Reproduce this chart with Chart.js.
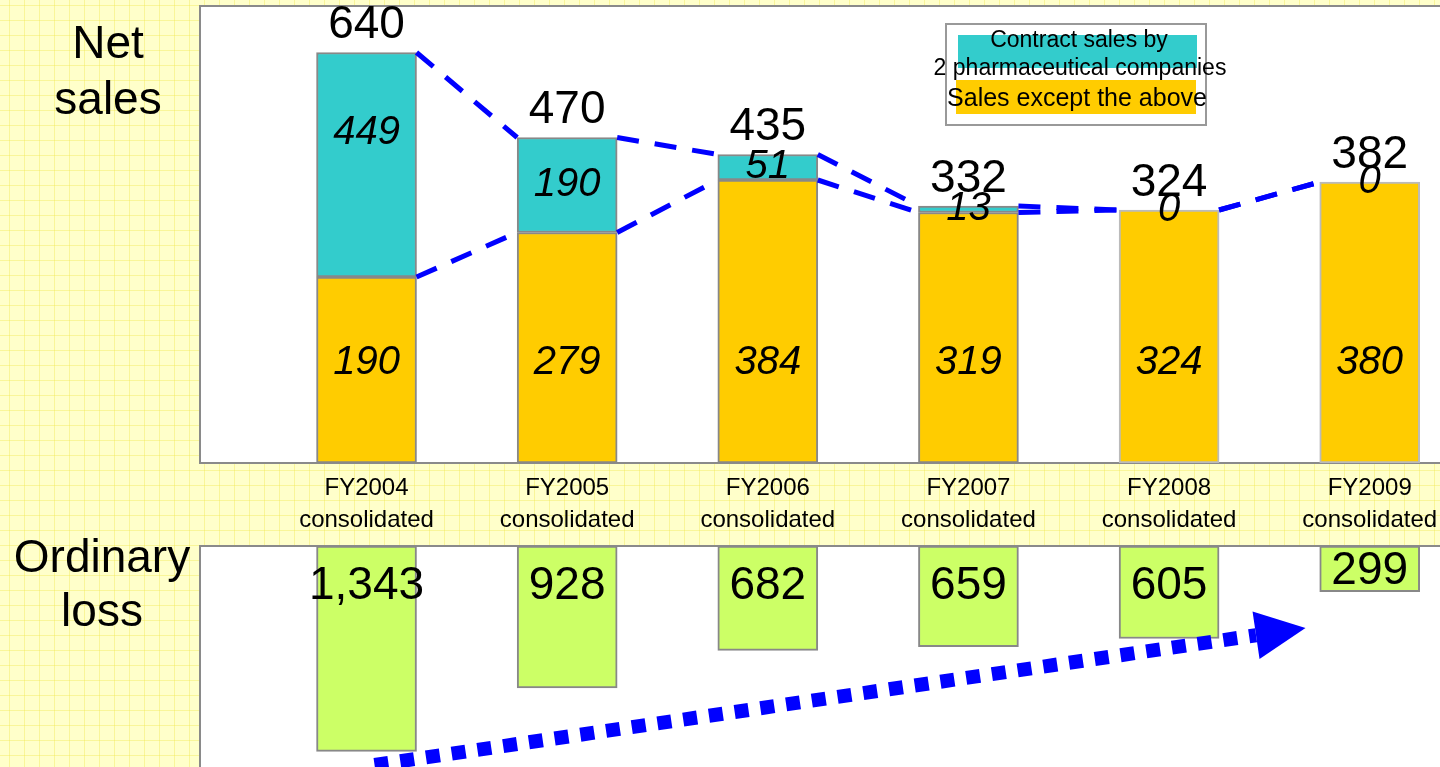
<!DOCTYPE html>
<html><head><meta charset="utf-8">
<script src="https://cdn.jsdelivr.net/npm/chart.js@4/dist/chart.umd.min.js"></script>
<style>
html,body{margin:0;padding:0;width:1440px;height:767px;overflow:hidden;}
body{position:relative;background-color:#FFFFCA;
background-image:linear-gradient(to right, rgba(240,232,80,0.4) 1px, transparent 1px),linear-gradient(to bottom, rgba(240,232,80,0.4) 1px, transparent 1px);
background-size:15px 15px;background-position:9px 5px;font-family:"Liberation Sans",Arial,sans-serif;}
#top{position:absolute;left:0;top:0;width:1460px;height:540px;}
#bot{position:absolute;left:0;top:540px;width:1460px;height:240px;}
.lbl{position:absolute;left:0;text-align:center;font-size:46px;color:#000;}
</style></head>
<body>
<div id="top"><canvas id="c1" width="1460" height="540"></canvas></div>
<div id="bot"><canvas id="c2" width="1460" height="240"></canvas></div>
<div class="lbl" style="top:14px;width:216px;line-height:56px;">Net<br>sales</div>
<div class="lbl" style="top:529px;width:204px;line-height:54px;">Ordinary<br>loss</div>
<script>
// ---- data ----
const categories = ['FY2004','FY2005','FY2006','FY2007','FY2008','FY2009'];
const tickLabels = [['FY2004','consolidated'],['FY2005','consolidated'],['FY2006','consolidated'],['FY2007','consolidated'],['FY2008','consolidated'],['FY2009','consolidated']];
const contractSales = [449,190,51,13,0,0];
const otherSales = [190,279,384,319,324,380];
const netSales = [640,470,435,332,324,382];
const ordinaryLoss = [1343,928,682,659,605,299];
const contractLabel = 'Contract sales by\n2 pharmaceutical companies';
const otherLabel = 'Sales except the above';

const FONT = '"Liberation Sans", Arial, sans-serif';
Chart.defaults.font.family = FONT;
Chart.defaults.color = '#000';

function xScale(display){
  const s = {
    type:'linear', min:-0.83, max:5.45, stacked:true, display:display,
    offset:false, bounds:'data',
    grid:{display:false, drawTicks:false, offset:false}, border:{display:false},
    afterBuildTicks: sc => { sc.ticks = categories.map((_,i)=>({value:i})); },
    ticks:{padding:9, autoSkip:false, maxRotation:0, color:'#000',
      font:{family:FONT, size:24, lineHeight:1.33},
      callback:(v)=>tickLabels[v]}
  };
  if (display) s.afterFit = sc => { sc.height = 77; };
  return s;
}

const plotBg = {
  id:'plotBg',
  beforeDraw(chart){
    const {ctx, chartArea:a} = chart;
    ctx.save();
    ctx.fillStyle = '#fff';
    ctx.fillRect(a.left, a.top, a.right-a.left, a.bottom-a.top);
    ctx.strokeStyle = '#8a8a8a'; ctx.lineWidth = 2;
    ctx.strokeRect(a.left, a.top, a.right-a.left, a.bottom-a.top);
    ctx.restore();
  }
};

const seriesLines = {
  id:'seriesLines',
  afterDatasetsDraw(chart){
    const ctx = chart.ctx;
    ctx.save();
    ctx.strokeStyle = '#0000FF'; ctx.lineWidth = 5; ctx.setLineDash([22,16]);
    chart.data.datasets.forEach((ds,di)=>{
      const els = chart.getDatasetMeta(di).data;
      for (let i=0;i<els.length-1;i++){
        const a = els[i], b = els[i+1];
        ctx.beginPath();
        ctx.moveTo(a.x + a.width/2, a.y);
        ctx.lineTo(b.x - b.width/2, b.y);
        ctx.stroke();
      }
    });
    ctx.restore();
  }
};

const topLabels = {
  id:'topLabels',
  afterDatasetsDraw(chart){
    const ctx = chart.ctx;
    const o = chart.getDatasetMeta(0).data, t = chart.getDatasetMeta(1).data;
    ctx.save();
    ctx.fillStyle = '#000'; ctx.textAlign = 'center'; ctx.textBaseline = 'middle';
    for (let i=0;i<o.length;i++){
      const ob = o[i], tb = t[i];
      ctx.font = 'italic 40px ' + FONT;
      ctx.fillText(String(otherSales[i]), ob.x, ob.base - 100);
      const h = tb.base - tb.y;
      ctx.fillText(String(contractSales[i]), tb.x, tb.y + Math.min(h/2, 80));
      ctx.font = '46px ' + FONT;
      ctx.fillText(String(netSales[i]), tb.x, tb.y - 27);
    }
    ctx.restore();
  }
};

const legendBox = {
  id:'legendBox',
  afterDraw(chart){
    const ctx = chart.ctx;
    const dsO = chart.data.datasets[0], dsT = chart.data.datasets[1];
    ctx.save();
    ctx.fillStyle = '#fff'; ctx.fillRect(946,24,260,101);
    ctx.strokeStyle = '#999'; ctx.lineWidth = 2; ctx.strokeRect(946,24,260,101);
    ctx.fillStyle = dsT.backgroundColor; ctx.fillRect(958,35,239,33);
    ctx.fillStyle = dsO.backgroundColor; ctx.fillRect(956,80,240,34);
    ctx.fillStyle = '#000'; ctx.textAlign = 'center'; ctx.textBaseline = 'middle';
    ctx.font = '23px ' + FONT;
    const l = dsT.label.split('\n');
    ctx.fillText(l[0], 1079, 41);
    ctx.fillText(l[1], 1080, 69);
    ctx.font = '25px ' + FONT;
    ctx.fillText(dsO.label, 1077, 99);
    ctx.restore();
  }
};

const borderTop = ['#888','#888','#888','#888','#bbb','#bbb'];

new Chart(document.getElementById('c1'), {
  type:'bar',
  data:{
    datasets:[
      {label:otherLabel, data:categories.map((c,i)=>({x:i, y:otherSales[i]})),
       backgroundColor:'#FFCC00', borderColor:borderTop, borderWidth:2, borderSkipped:false,
       barThickness:100, base:-182},
      {label:contractLabel, data:categories.map((c,i)=>({x:i, y:contractSales[i]})),
       backgroundColor:'#33CCCC', borderColor:borderTop, borderWidth:2, borderSkipped:false,
       barThickness:100}
    ]
  },
  options:{
    responsive:false, animation:false,
    layout:{padding:{left:200, top:6, right:0, bottom:0}},
    scales:{
      x: xScale(true),
      y: {type:'linear', display:false, stacked:true, min:-182, max:732}
    },
    plugins:{legend:{display:false}, tooltip:{enabled:false}}
  },
  plugins:[plotBg, seriesLines, topLabels, legendBox]
});

const lossLabels = {
  id:'lossLabels',
  afterDatasetsDraw(chart){
    const ctx = chart.ctx;
    const els = chart.getDatasetMeta(0).data;
    ctx.save();
    ctx.fillStyle = '#000'; ctx.textAlign = 'center'; ctx.textBaseline = 'middle';
    ctx.font = '46px ' + FONT;
    els.forEach((el,i)=>{
      const h = el.y - el.base;
      ctx.fillText(ordinaryLoss[i].toLocaleString('en-US'), el.x, el.base + Math.min(40, h*0.55));
    });
    ctx.restore();
  }
};

const arrowFrom = {x:0.04, y:1432};
const arrowTo = {x:4.68, y:536};
const trendArrow = {
  id:'trendArrow',
  afterDraw(chart){
    const ctx = chart.ctx, xs = chart.scales.x, ys = chart.scales.y;
    const x0 = xs.getPixelForValue(arrowFrom.x), y0 = ys.getPixelForValue(arrowFrom.y);
    const x1 = xs.getPixelForValue(arrowTo.x), y1 = ys.getPixelForValue(arrowTo.y);
    const ang = Math.atan2(y1-y0, x1-x0), c = Math.cos(ang), s = Math.sin(ang);
    const headLen = 50, headW = 24;
    const bx = x1 - headLen*c, by = y1 - headLen*s;
    ctx.save();
    ctx.strokeStyle = '#0000FF'; ctx.fillStyle = '#0000FF';
    ctx.lineWidth = 14; ctx.setLineDash([14,12]);
    ctx.beginPath(); ctx.moveTo(x0,y0); ctx.lineTo(bx,by); ctx.stroke();
    ctx.setLineDash([]);
    ctx.beginPath();
    ctx.moveTo(x1,y1);
    ctx.lineTo(bx + headW*s, by - headW*c);
    ctx.lineTo(bx - headW*s, by + headW*c);
    ctx.closePath(); ctx.fill();
    ctx.restore();
  }
};

new Chart(document.getElementById('c2'), {
  type:'bar',
  data:{
    datasets:[
      {label:'Ordinary loss', data:categories.map((c,i)=>({x:i, y:ordinaryLoss[i]})),
       backgroundColor:'#CCFF66', borderColor:'#888', borderWidth:2, borderSkipped:false,
       barThickness:100}
    ]
  },
  options:{
    responsive:false, animation:false,
    layout:{padding:{left:200, top:6, right:0, bottom:0}},
    scales:{
      x: xScale(false),
      y: {type:'linear', display:false, reverse:true, min:0, max:1530}
    },
    plugins:{legend:{display:false}, tooltip:{enabled:false}}
  },
  plugins:[plotBg, lossLabels, trendArrow]
});
</script>
</body></html>
